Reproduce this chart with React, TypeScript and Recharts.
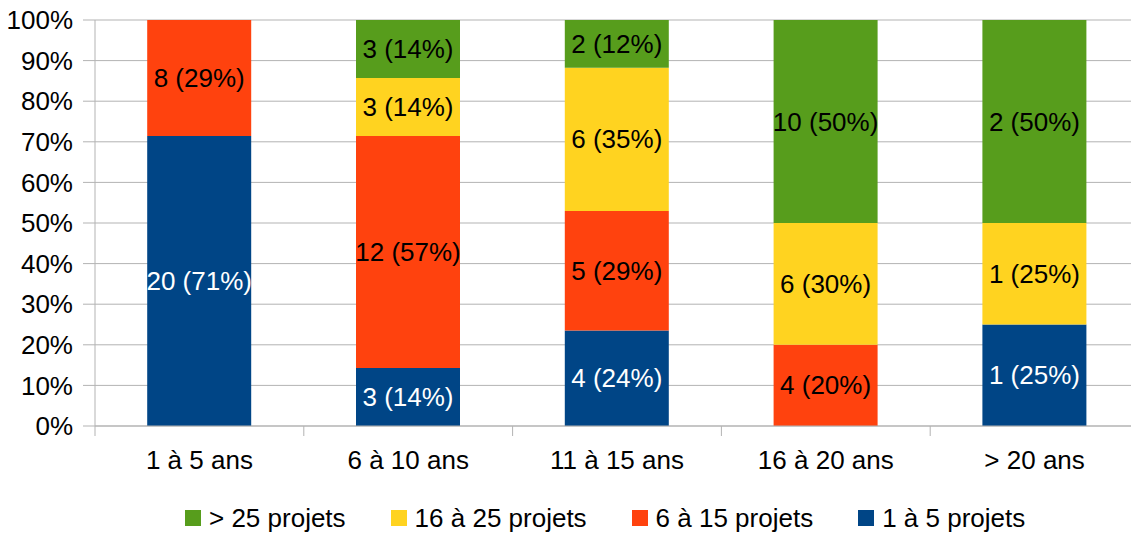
import React from "react";
import {
  BarChart, Bar, XAxis, YAxis, CartesianGrid, Legend, LabelList,
} from "recharts";

// categories (age of the structure)
const categories = ["1 à 5 ans", "6 à 10 ans", "11 à 15 ans", "16 à 20 ans", "> 20 ans"];

// counts per series, same order as categories
const projets1a5 = [20, 3, 4, 0, 1];
const projets6a15 = [8, 12, 5, 4, 0];
const projets16a25 = [0, 3, 6, 6, 1];
const projetsPlus25 = [0, 3, 2, 10, 2];

const yTicks = [0, 0.1, 0.2, 0.3, 0.4, 0.5, 0.6, 0.7, 0.8, 0.9, 1];

const series = [
  { key: "p1", name: "1 à 5 projets", values: projets1a5, color: "#004586", text: "#ffffff" },
  { key: "p2", name: "6 à 15 projets", values: projets6a15, color: "#ff420e", text: "#000000" },
  { key: "p3", name: "16 à 25 projets", values: projets16a25, color: "#ffd320", text: "#000000" },
  { key: "p4", name: "> 25 projets", values: projetsPlus25, color: "#579d1c", text: "#000000" },
];

const totals = categories.map((_, i) => series.reduce((s, d) => s + d.values[i], 0));

// one row per category, plus a "N (P%)" label field per series
const data = categories.map((cat, i) => {
  const row: Record<string, string | number> = { cat };
  series.forEach((s) => {
    const v = s.values[i];
    row[s.key] = v;
    row[s.key + "Label"] = v ? `${v} (${Math.round((v / totals[i]) * 100)}%)` : "";
  });
  return row;
});

const FONT = "'Liberation Sans', Arial, sans-serif";
const GRID = "#b3b3b3";

const makeLabel = (color: string) => (props: any) => {
  const { x, y, width, height, value } = props;
  if (!value) return null;
  return (
    <text
      x={x + width / 2}
      y={y + height / 2}
      textAnchor="middle"
      dominantBaseline="central"
      fill={color}
      fontSize={26}
      fontFamily={FONT}
    >
      {value}
    </text>
  );
};

// category label in the middle, tick marks on the band edges
function XTick(props: any) {
  const { x, y, payload, index, width, visibleTicksCount } = props;
  const half = width / visibleTicksCount / 2;
  const last = index === visibleTicksCount - 1;
  return (
    <g>
      <line x1={x - half} x2={x - half} y1={y} y2={y + 10} stroke={GRID} />
      {last && <line x1={x + half} x2={x + half} y1={y} y2={y + 10} stroke={GRID} />}
      <text x={x} y={y + 43} textAnchor="middle" fill="#000" fontSize={26} fontFamily={FONT}>
        {payload.value}
      </text>
    </g>
  );
}

function renderLegend() {
  const items = [...series].reverse();
  return (
    <div style={{ display: "flex", height: 30, alignItems: "center", paddingLeft: 185, fontFamily: FONT, fontSize: 26 }}>
      {items.map((s, i) => (
        <div key={s.key} style={{ display: "flex", alignItems: "center", marginRight: i < items.length - 1 ? 45 : 0 }}>
          <span style={{ display: "inline-block", width: 16, height: 16, background: s.color, marginRight: 8 }} />
          <span style={{ color: "#000", whiteSpace: "nowrap" }}>{s.name}</span>
        </div>
      ))}
    </div>
  );
}

export default function App() {
  return (
    <div style={{ position: "absolute", left: 0, top: 0, width: 1131, height: 533, overflow: "hidden", background: "#fff" }}>
      <BarChart
        width={1151}
        height={533}
        data={data}
        stackOffset="expand"
        barCategoryGap="25%"
        margin={{ top: 20, right: 12, left: 0, bottom: 0 }}
      >
        <CartesianGrid vertical={false} stroke={GRID} />
        <XAxis
          dataKey="cat"
          height={77}
          axisLine={{ stroke: GRID }}
          tickLine={false}
          tickSize={0}
          tickMargin={0}
          interval={0}
          tick={<XTick />}
        />
        <YAxis
          width={95}
          domain={[0, 1]}
          ticks={yTicks}
          tickFormatter={(v) => `${Math.round(v * 100)}%`}
          axisLine={{ stroke: GRID }}
          tickLine={{ stroke: GRID }}
          tickSize={12}
          tickMargin={10}
          tick={{ fontSize: 26, fill: "#000", fontFamily: FONT }}
        />
        <Legend verticalAlign="bottom" content={renderLegend} wrapperStyle={{ left: 0, width: 1131, bottom: 0 }} />
        {series.map((s) => (
          <Bar key={s.key} dataKey={s.key} name={s.name} stackId="a" fill={s.color} isAnimationActive={false}>
            <LabelList dataKey={s.key + "Label"} content={makeLabel(s.text)} />
          </Bar>
        ))}
      </BarChart>
    </div>
  );
}
